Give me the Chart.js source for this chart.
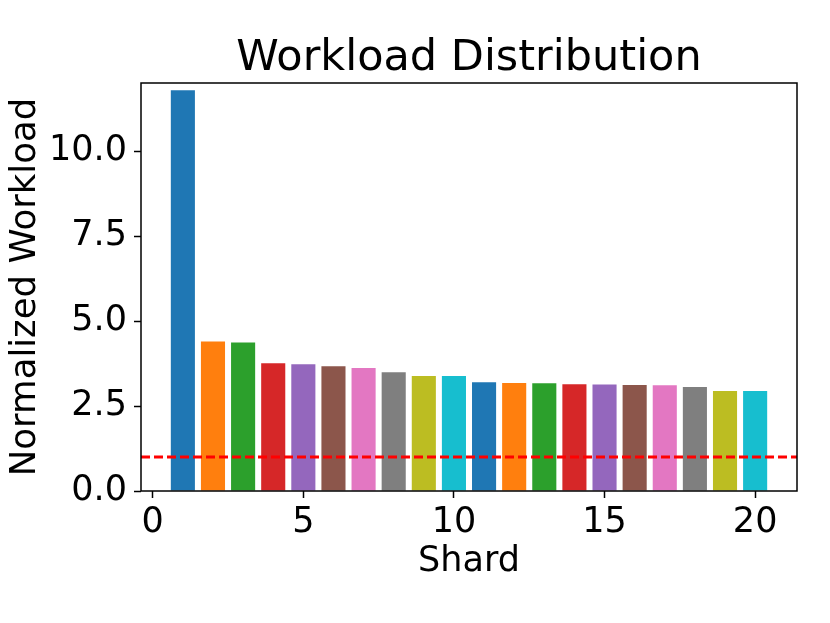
<!DOCTYPE html>
<html>
<head>
<meta charset="utf-8">
<script src="https://cdn.jsdelivr.net/npm/chart.js@4/dist/chart.umd.min.js"></script>
<style>
  html, body { margin: 0; padding: 0; background: #fff; }
  #wrap { width: 830px; height: 623px; }
</style>
</head>
<body>
<div id="wrap"><canvas id="workloadChart"></canvas></div>
<script>
const shards = [1, 2, 3, 4, 5, 6, 7, 8, 9, 10, 11, 12, 13, 14, 15, 16, 17, 18, 19, 20];
const workload = [11.79, 4.40, 4.37, 3.76, 3.73, 3.67, 3.62, 3.49, 3.38, 3.38,
                  3.20, 3.18, 3.17, 3.14, 3.13, 3.12, 3.11, 3.06, 2.94, 2.94];
const xTicks = [0, 5, 10, 15, 20];
const yTicks = [0, 2.5, 5, 7.5, 10];
const threshold = 1;
const titleText = 'Workload Distribution';
const tab10 = ['#1f77b4', '#ff7f0e', '#2ca02c', '#d62728', '#9467bd',
               '#8c564b', '#e377c2', '#7f7f7f', '#bcbd22', '#17becf'];

const xMin = -0.39, xMax = 21.39;
const font = { family: 'DejaVu Sans', size: 35 };

// box round the plot area (matplotlib spines) + title centred over the axes
const frame = {
    id: 'frame',
    afterDraw(chart) {
        const a = chart.chartArea, c = chart.ctx;
        c.save();
        c.strokeStyle = '#000';
        c.lineWidth = 1.5;
        c.strokeRect(a.left, a.top, a.right - a.left, a.bottom - a.top);
        c.fillStyle = '#000';
        c.font = '43px "DejaVu Sans"';
        c.textAlign = 'center';
        c.textBaseline = 'alphabetic';
        c.fillText(titleText, (a.left + a.right) / 2, a.top - 13);
        c.restore();
    }
};

const ctx = document.getElementById('workloadChart').getContext('2d');
const workloadChart = new Chart(ctx, {
    type: 'bar',
    data: {
        datasets: [{
            type: 'line',
            data: [{ x: xMin, y: threshold }, { x: xMax, y: threshold }],
            borderColor: '#ff0000',
            borderWidth: 3,
            borderDash: [9, 4],
            pointRadius: 0,
            fill: false,
            order: 0
        }, {
            data: shards.map((s, i) => ({ x: s, y: workload[i] })),
            backgroundColor: shards.map((s, i) => tab10[i % 10]),
            borderWidth: 0,
            barPercentage: 0.8,
            categoryPercentage: 1.0,
            order: 1
        }]
    },
    options: {
        responsive: true,
        maintainAspectRatio: false,
        animation: false,
        layout: { padding: { left: 0, right: 33, top: 83, bottom: 0 } },
        scales: {
            x: {
                type: 'linear',
                min: xMin,
                max: xMax,
                offset: false,
                grid: { offset: false, drawOnChartArea: false, tickLength: 7, tickColor: '#000', tickWidth: 1.5 },
                border: { display: false },
                afterBuildTicks: (s) => { s.ticks = xTicks.map(v => ({ value: v })); },
                afterFit: (s) => { s.height = 132; },
                ticks: { color: '#000', font: font, padding: 4, maxRotation: 0 },
                title: { display: true, text: 'Shard', color: '#000', font: font, padding: { top: 0, bottom: 40 } }
            },
            y: {
                min: 0,
                max: 12.0,
                grid: { drawOnChartArea: false, tickLength: 7, tickColor: '#000', tickWidth: 1.5 },
                border: { display: false },
                afterBuildTicks: (s) => { s.ticks = yTicks.map(v => ({ value: v })); },
                afterFit: (s) => { s.width = 141; },
                ticks: { color: '#000', font: font, padding: 7, callback: (v) => v.toFixed(1) },
                title: { display: true, text: 'Normalized Workload', color: '#000', font: { family: 'DejaVu Sans', size: 35.5 }, padding: { top: 4, bottom: 0 } }
            }
        },
        plugins: {
            legend: { display: false },
            tooltip: { enabled: false },
            title: { display: false }
        }
    },
    plugins: [frame]
});
</script>
</body>
</html>
